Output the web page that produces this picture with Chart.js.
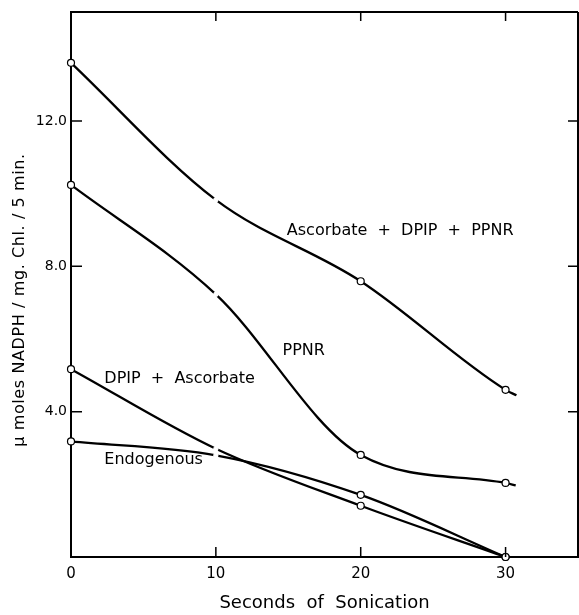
<!DOCTYPE html>
<html>
<head>
<meta charset="utf-8">
<script src="https://cdn.jsdelivr.net/npm/chart.js@4"></script>
<style>
  html, body { margin: 0; padding: 0; background: #fff; }
  #wrap { width: 579px; height: 615px; }
</style>
</head>
<body>
<div id="wrap"><canvas id="chart" width="579" height="615"></canvas></div>
<script>
/* ================= DATA ================= */
const seconds = [0, 10, 20, 30];
const xTicks = [0, 10, 20, 30];
const yTicks = [0, 4, 8, 12];

const ascDpipPpnr = [13.6, 9.83, 7.59, 4.6];
const ppnr = [10.24, 7.23, 2.81, 2.04];
const dpipAsc = [5.17, 2.98, 1.41, 0];
const endogenous = [3.18, 2.80, 1.71, 0];

// the two upper curves run on a little past the last point
const ascTail = [30.75, 4.45];
const ppnrTail = [30.7, 1.97];

const curveLabels = [
    { text: "Ascorbate  +  DPIP  +  PPNR", x: 14.9, y: 8.97 },
    { text: "PPNR", x: 14.6, y: 5.68 },
    { text: "DPIP  +  Ascorbate", x: 2.3, y: 4.91 },
    { text: "Endogenous", x: 2.3, y: 2.68 }
];

const yTitle = "μ moles NADPH / mg. Chl. / 5 min.";
const FONT = "'DejaVu Sans', sans-serif";

/* ================= HELPERS ================= */
function series(vals, tail) {
    const pts = seconds.map((s, i) => ({ x: s, y: vals[i] }));
    if (tail) pts.push({ x: tail[0], y: tail[1] });
    return pts;
}

function makeSet(label, vals, tail) {
    const n = seconds.length + (tail ? 1 : 0);
    // the 10 s point shows only as a small break in the line
    const radius = [], border = [];
    for (let i = 0; i < n; i++) {
        if (i >= seconds.length) { radius.push(0); border.push("#000"); }
        else if (seconds[i] === 10) { radius.push(2); border.push("#fff"); }
        else { radius.push(3.5); border.push("#000"); }
    }
    return {
        label,
        data: series(vals, tail),
        borderColor: "#000",
        borderWidth: 2.3,
        cubicInterpolationMode: "monotone",
        pointRadius: radius,
        pointBorderColor: border,
        pointBackgroundColor: "#fff",
        pointBorderWidth: 1.2,
        clip: false
    };
}

/* ================= FRAME + INNER TICKS ================= */
const framePlugin = {
    id: "frame",
    afterDatasetsDraw(chart) {
        const { ctx, chartArea: a, scales } = chart;
        ctx.save();
        ctx.strokeStyle = "#000";
        ctx.lineWidth = 2;
        ctx.beginPath();
        ctx.moveTo(a.left, a.top); ctx.lineTo(a.right, a.top);
        ctx.moveTo(a.right, a.top); ctx.lineTo(a.right, a.bottom);
        ctx.stroke();

        ctx.lineWidth = 1.5;
        ctx.beginPath();
        xTicks.filter(v => v > 0).forEach(v => {
            const px = scales.x.getPixelForValue(v);
            ctx.moveTo(px, a.bottom); ctx.lineTo(px, a.bottom - 10);
            ctx.moveTo(px, a.top); ctx.lineTo(px, a.top + 9);
        });
        yTicks.filter(v => v > 0).forEach(v => {
            const py = scales.y.getPixelForValue(v);
            ctx.moveTo(a.left, py); ctx.lineTo(a.left + 11, py);
            ctx.moveTo(a.right, py); ctx.lineTo(a.right - 10, py);
        });
        ctx.stroke();

        // curve names
        ctx.fillStyle = "#000";
        ctx.font = "16px " + FONT;
        ctx.textAlign = "left";
        ctx.textBaseline = "middle";
        curveLabels.forEach(l => {
            ctx.fillText(l.text, scales.x.getPixelForValue(l.x), scales.y.getPixelForValue(l.y));
        });

        // y axis title, sits a bit below the middle of the axis
        ctx.translate(20, 300);
        ctx.rotate(-Math.PI / 2);
        ctx.textAlign = "center";
        ctx.font = "16px " + FONT;
        ctx.letterSpacing = "0.6px";
        ctx.fillText(yTitle, 0, 0);
        ctx.restore();
    }
};

/* ================= CHART ================= */
new Chart(document.getElementById("chart"), {
    type: "line",
    data: {
        datasets: [
            makeSet("Ascorbate + DPIP + PPNR", ascDpipPpnr, ascTail),
            makeSet("PPNR", ppnr, ppnrTail),
            makeSet("DPIP + Ascorbate", dpipAsc),
            makeSet("Endogenous", endogenous)
        ]
    },
    options: {
        responsive: false,
        animation: false,
        layout: { autoPadding: false, padding: { top: 12, right: 1, left: 0, bottom: 0 } },
        plugins: { legend: { display: false }, tooltip: { enabled: false } },
        scales: {
            x: {
                type: "linear",
                min: 0,
                max: 35,
                afterBuildTicks: s => { s.ticks = xTicks.map(v => ({ value: v })); },
                afterFit: s => { s.height = 58; s.paddingLeft = 0; s.paddingRight = 0; },
                grid: { display: false, drawTicks: false },
                border: { display: true, color: "#000", width: 2 },
                ticks: { color: "#000", padding: 8, font: { family: FONT, size: 15 } },
                title: {
                    display: true,
                    text: "Seconds  of  Sonication",
                    color: "#000",
                    padding: { top: 0, bottom: 1 },
                    font: { family: FONT, size: 18 }
                }
            },
            y: {
                min: 0,
                max: 15,
                afterBuildTicks: s => { s.ticks = yTicks.map(v => ({ value: v })); },
                afterFit: s => { s.width = 71; s.paddingTop = 0; s.paddingBottom = 0; },
                grid: { display: false, drawTicks: false },
                border: { display: true, color: "#000", width: 2 },
                ticks: {
                    color: "#000",
                    padding: 4,
                    font: { family: FONT, size: 14 },
                    callback: v => v === 0 ? "" : v.toFixed(1)
                }
            }
        }
    },
    plugins: [framePlugin]
});
</script>
</body>
</html>
